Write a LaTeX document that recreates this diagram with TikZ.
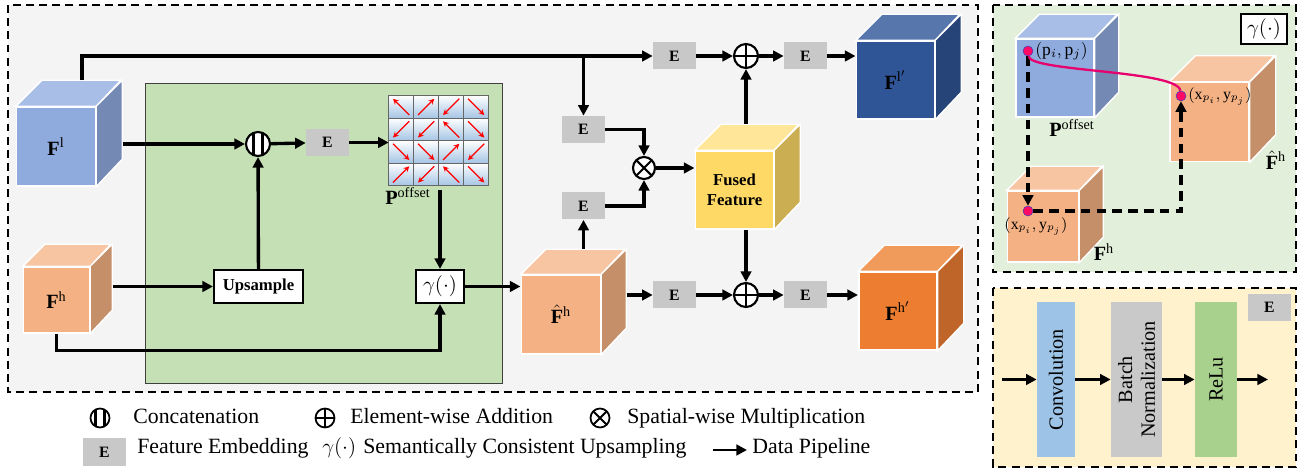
\documentclass[tikz,border=0pt]{standalone}
\usepackage{fontspec}
\setmainfont{Liberation Serif}
\usetikzlibrary{arrows.meta, positioning, fit, calc}

\newdimen\px \px=0.02cm

\definecolor{bgmain}{HTML}{F4F4F4}
\definecolor{greenbox}{HTML}{C5E0B4}
\definecolor{gampanel}{HTML}{E2EFDA}
\definecolor{embpanel}{HTML}{FFF2CC}
\definecolor{embgray}{HTML}{C8C8C8}
\definecolor{cellblue}{HTML}{A4C4E4}
\definecolor{bluefront}{HTML}{8FAADC}
\definecolor{bluetop}{HTML}{A9BEE6}
\definecolor{blueside}{HTML}{7489B3}
\definecolor{peachfront}{HTML}{F4B183}
\definecolor{peachtop}{HTML}{F7C5A1}
\definecolor{peachside}{HTML}{C48F69}
\definecolor{fusedfront}{HTML}{FFD966}
\definecolor{fusedtop}{HTML}{FFE699}
\definecolor{fusedside}{HTML}{CCAE52}
\definecolor{navyfront}{HTML}{2F5597}
\definecolor{navytop}{HTML}{5676AC}
\definecolor{navyside}{HTML}{274479}
\definecolor{orangefront}{HTML}{ED7D31}
\definecolor{orangetop}{HTML}{F09A5B}
\definecolor{orangeside}{HTML}{C0652A}
\definecolor{convblue}{HTML}{9DC3E6}
\definecolor{bngray}{HTML}{C9C9C9}
\definecolor{relugreen}{HTML}{A9D18E}
\definecolor{dotpink}{HTML}{FF0A64}
\definecolor{curvepink}{HTML}{E8006E}

% [node options]{name}{centre of front face}{size}{depth}{colour}{label}
\newcommand{\featcube}[7][]{%
  \node[cubeface, fill=#6front, minimum size=#4\px, #1] (#2-f) at (#3) {#7};
  \filldraw[cubeedge, fill=#6top] (#2-f.north west) -- ++(#5,-#5) -- ++(#4,0) -- (#2-f.north east) -- cycle;
  \filldraw[cubeedge, fill=#6side] (#2-f.north east) -- ++(#5,-#5) -- ++(0,#4) -- (#2-f.south east) -- cycle;
  \coordinate (#2-c) at ($(#2-f.north east)+(#5,-#5)$);
  \coordinate (#2-t) at ($(#2-f.north)+(#5,-#5)$);
  \node[fit=(#2-f)(#2-c), inner sep=0] (#2) {};
}

\begin{document}
\begin{tikzpicture}[x=0.02cm, y=-0.02cm, >={Triangle[length=6pt,width=6pt]},
    flow/.style={->, line width=1.9pt},
    dashbox/.style={dash pattern=on 4.5pt off 3pt, line width=1.1pt},
    dasharrow/.style={->, line width=2pt, dash pattern=on 5.5pt off 3.5pt},
    emb/.style={fill=embgray, minimum width=43\px, minimum height=27\px, inner sep=0, font=\fontsize{9}{10}\selectfont\bfseries},
    opbox/.style={draw, line width=1.2pt, fill=white, inner sep=0, minimum height=33\px},
    cubeface/.style={draw=white, line width=0.8pt, inner sep=0, align=center, font=\fontsize{11.5}{13}\selectfont},
    cubeedge/.style={draw=white, line width=0.8pt},
    symbase/.style={circle, draw, fill=white, line width=1.2pt, inner sep=0, minimum size=24\px},
    addsym/.style={symbase, path picture={\draw[line width=1.2pt] (path picture bounding box.north) -- (path picture bounding box.south) (path picture bounding box.west) -- (path picture bounding box.east);}},
    mulsym/.style={symbase, path picture={\draw[line width=1.2pt] (path picture bounding box.north west) -- (path picture bounding box.south east) (path picture bounding box.north east) -- (path picture bounding box.south west);}},
    catsym/.style={symbase, path picture={\draw[line width=1.2pt] ([xshift=-4.5\px]path picture bounding box.north) -- ([xshift=-4.5\px]path picture bounding box.south) ([xshift=4.5\px]path picture bounding box.north) -- ([xshift=4.5\px]path picture bounding box.south);}},
    legsym/.style={minimum size=19\px, line width=1pt},
    gridcell/.style={draw=black!60, line width=0.6pt, top color=white, bottom color=cellblue},
    offarrow/.style={red, line width=0.75pt, -{Stealth[length=3.2pt,width=3.2pt]}},
    mathlbl/.style={inner sep=0, font=\fontsize{11.5}{13}\selectfont},
    dot/.style={circle, fill=dotpink, draw=blue!50!gray, line width=0.3pt, minimum size=10\px, inner sep=0},
    ptlabel/.style={inner sep=1pt, font=\fontsize{9}{10}\selectfont},
    bar/.style={rotate=90, minimum width=155\px, inner sep=1pt, align=center, font=\fontsize{11.5}{13}\selectfont},
    legtext/.style={inner sep=0, anchor=base west, font=\fontsize{12.4}{14}\selectfont}]

  \useasboundingbox (0,0) rectangle (1302,472);

  % panels
  \filldraw[fill=bgmain, dashbox] (8,5) rectangle (978,392);
  \filldraw[fill=greenbox, draw=black!75, line width=0.5pt] (145,83) rectangle (502,383);
  \filldraw[fill=gampanel, dashbox, line width=1.3pt] (993,5) rectangle (1296,272);
  \filldraw[fill=embpanel, dashbox, line width=1.3pt] (993,288) rectangle (1296,467);

  % inputs
  \featcube{Fl}{56,146.5}{79}{26}{blue}{$\mathbf{F}^{\mathrm{l}}$}
  \featcube{Fh}{56.5,300}{66}{22}{peach}{$\mathbf{F}^{\mathrm{h}}$}

  % semantically consistent upsampling
  \node[catsym] (cat) at (258,144) {};
  \node[opbox, minimum width=89\px, font=\fontsize{9.5}{11}\selectfont\bfseries] (ups) at (258.5,286.5) {Upsample};
  \node[emb] (e1) at (327.5,142.5) {E};
  \node[minimum width=100\px, minimum height=90\px, inner sep=0] (grid) at (439,141) {};
  \foreach \gy in {0,...,3}
    \foreach \gx in {0,...,3}
      \draw[gridcell] ([shift={(\gx*25,\gy*22.5)}]grid.north west) rectangle ++(25,22.5);
  \foreach \gx/\gy/\ang in {0/0/135, 1/0/45, 2/0/225, 3/0/315,
                            0/1/225, 1/1/225, 2/1/135, 3/1/315,
                            0/2/315, 1/2/315, 2/2/45, 3/2/225,
                            0/3/45, 1/3/225, 2/3/135, 3/3/315}
    \draw[offarrow] ([shift={(\gx*25+12.5,\gy*22.5+11.25)}]grid.north west) ++(\ang+180:0.23cm) -- ++(\ang:0.46cm);
  \node[mathlbl] (poff) at (408,196) {$\mathbf{P}^{\mathrm{offset}}$};
  \node[opbox, minimum width=48\px, font=\fontsize{12}{14}\selectfont] (gam) at (440,286.5) {$\gamma(\cdot)$};

  \draw[flow] (Fl.east |- cat) -- (cat);
  \draw[flow] (Fh.east |- ups) -- (ups);
  \draw[flow] (ups) -- (cat);
  \draw[flow] (cat) -- (e1);
  \draw[flow] (e1) -- (e1 -| grid.west);
  \draw[flow, shorten <=4\px] (gam |- grid.south) -- (gam);
  \draw[flow] (Fh-f.south) -- ++(0,17) -| (gam);

  % fusion
  \featcube{Fhat}{561,314.5}{79}{25}{peach}{$\hat{\mathbf{F}}^{\mathrm{h}}$}
  \featcube[font=\fontsize{9.5}{11.5}\selectfont\bfseries]{fused}{734.5,190}{78}{26}{fused}{Fused\\Feature}
  \featcube{Flp}{895.5,80}{78}{26}{navy}{$\mathbf{F}^{\mathrm{l}'}$}
  \featcube{Fhp}{898,311}{78}{26}{orange}{$\mathbf{F}^{\mathrm{h}'}$}
  \node[emb] (eu) at (583.5,129.5) {E};
  \node[emb] (ed) at (583.5,206) {E};
  \node[mulsym, minimum size=22\px] (mul) at (644,168) {};
  \node[emb] (et1) at (674.5,56) {E};
  \node[addsym] (addt) at (746,56) {};
  \node[emb] (et2) at (805.5,56) {E};
  \node[emb] (eb1) at (674.5,295) {E};
  \node[addsym] (addb) at (746,295) {};
  \node[emb] (eb2) at (805.5,295) {E};

  \draw[flow] (gam) -- (gam -| Fhat.west);
  \draw[flow] (Fl-t) |- (et1);
  \draw[flow] (eu |- et1) -- (eu);
  \draw[flow] (eu) -| (mul);
  \draw[flow] (ed |- Fhat.north) -- (ed);
  \draw[flow] (ed) -| (mul);
  \draw[flow] (mul) -- (mul -| fused.west);
  \draw[flow] (addt |- fused.north) -- (addt);
  \draw[flow] (addb |- fused.south) -- (addb);
  \draw[flow] (et1) -- (addt);
  \draw[flow] (addt) -- (et2);
  \draw[flow] (et2) -- (et2 -| Flp.west);
  \draw[flow] (Fhat.east |- eb1) -- (eb1);
  \draw[flow] (eb1) -- (addb);
  \draw[flow] (addb) -- (eb2);
  \draw[flow] (eb2) -- (eb2 -| Fhp.west);

  % gamma panel
  \node[draw, fill=white, line width=1pt, minimum width=46\px, minimum height=30\px, inner sep=0, font=\fontsize{12}{14}\selectfont] (gtag) at (1264,29) {$\gamma(\cdot)$};
  \featcube{Pg}{1055,78}{78}{24}{blue}{}
  \featcube{Fhs}{1043,226.5}{71}{24}{peach}{}
  \featcube{Fhg}{1209.5,122}{79}{26}{peach}{}
  \node[mathlbl] (pgl) at (1072,128) {$\mathbf{P}^{\mathrm{offset}}$};
  \node[mathlbl] (fhgl) at (1276,160) {$\hat{\mathbf{F}}^{\mathrm{h}}$};
  \node[mathlbl] (fhsl) at (1104,252) {$\mathbf{F}^{\mathrm{h}}$};
  \node[dot] (d1) at (1028,51) {};
  \node[dot] (d2) at (1181,96) {};
  \node[dot] (d3) at (1028,211) {};
  \node[ptlabel, anchor=west, font=\fontsize{10}{11}\selectfont] (l1) at (d1.east) {$(\mathrm{p}_i,\mathrm{p}_j)$};
  \node[ptlabel, anchor=west] (l2) at (d2.east) {$(\mathrm{x}_{p_i},\mathrm{y}_{p_j})$};
  \node[ptlabel] (l3) at (1036,226) {$(\mathrm{x}_{p_i},\mathrm{y}_{p_j})$};
  \draw[dasharrow] (d1) -- (d3);
  \draw[dasharrow] (d3) -| (d2);
  \draw[curvepink, line width=1.3pt] (d1) .. controls (1030,72) and (1178,70) .. (d2);

  % embedding panel
  \node[emb] (etag) at (1269.5,307.5) {E};
  \node[bar, fill=convblue, minimum height=38\px] (conv) at (1056,379.5) {Convolution};
  \node[bar, fill=bngray, minimum height=51\px] (bn) at (1136.5,379.5) {Batch\\Normalization};
  \node[bar, fill=relugreen, minimum height=42\px] (relu) at (1216,379.5) {ReLu};
  \coordinate (ein) at (1002,379.5);
  \coordinate (eout) at (1268,379.5);
  \draw[flow] (ein) -- (conv);
  \draw[flow] (conv) -- (bn);
  \draw[flow] (bn) -- (relu);
  \draw[flow] (relu) -- (eout);

  % legend
  \node[catsym, legsym] (lcat) at (100,418) {};
  \node[legtext] (tcat) at (133,423.5) {Concatenation};
  \node[addsym, legsym] (ladd) at (325,418) {};
  \node[legtext] (tadd) at (350,423.5) {Element-wise Addition};
  \node[mulsym, legsym] (lmul) at (600,418) {};
  \node[legtext] (tmul) at (627,423.5) {Spatial-wise Multiplication};
  \node[emb, minimum height=28\px] (lemb) at (104.5,452) {E};
  \node[legtext] (temb) at (137,454) {Feature Embedding};
  \node[legtext] (lgam) at (322,454) {$\gamma(\cdot)$};
  \node[legtext] (tgam) at (363,454) {Semantically Consistent Upsampling};
  \coordinate (la) at (713,450);
  \coordinate (lb) at (747,450);
  \draw[flow, line width=1.5pt] (la) -- (lb);
  \node[legtext] (tflow) at (752,454) {Data Pipeline};
\end{tikzpicture}
\end{document}
